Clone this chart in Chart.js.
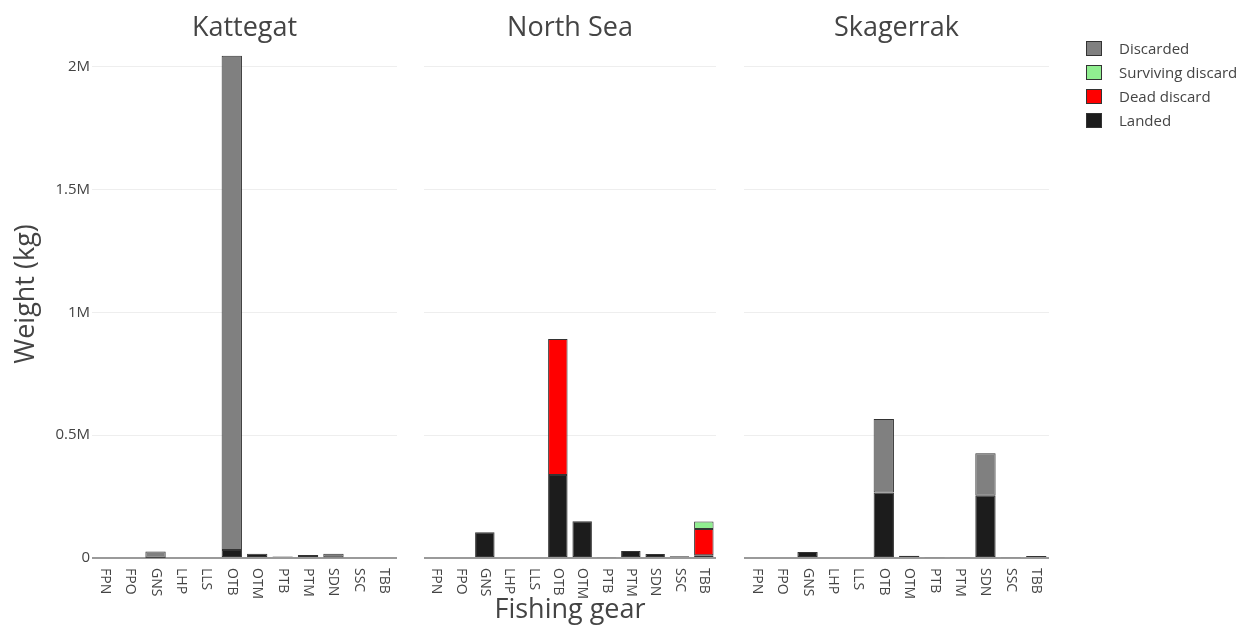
<!DOCTYPE html>
<html><head><meta charset="utf-8">
<script src="https://cdn.jsdelivr.net/npm/chart.js@4.4.1/dist/chart.umd.min.js"></script>
<style>
html,body{margin:0;padding:0;background:#fff;}
#wrap{position:relative;width:1250px;height:628px;overflow:hidden;background:#fff;}
canvas{position:absolute;left:0;top:0;}
#legend{position:absolute;left:1086px;top:36px;font-family:'Open Sans';font-size:15px;color:#444;}
.item{height:24px;display:flex;align-items:center;white-space:nowrap;}
.sw{width:14px;height:13px;border:1px solid #333;margin-right:17px;flex:none;}
</style></head><body>
<div id="wrap">
<canvas id="c1" width="1250" height="628"></canvas>
<canvas id="c2" width="1250" height="628"></canvas>
<canvas id="c3" width="1250" height="628"></canvas>
<div id="legend"></div>
</div>
<script>
// ---- data ----
const gears = ['FPN','FPO','GNS','LHP','LLS','OTB','OTM','PTB','PTM','SDN','SSC','TBB'];
const panelTitles = ['Kattegat','North Sea','Skagerrak'];
const seriesNames = ['Landed','Dead discard','Surviving discard','Discarded'];
const seriesColors = ['#1c1c1c','#ff0000','#90ee90','#808080'];

const kattegatLanded     = [null,null,1500,null,null,33000,17500,6000,12000,3000,null,null];
const kattegatDead       = [null,null,null,null,null,null,null,null,null,null,null,null];
const kattegatSurviving  = [null,null,null,null,null,null,null,null,null,null,null,null];
const kattegatDiscarded  = [null,null,24500,null,null,2012000,null,null,null,14500,null,null];

const northSeaLanded     = [null,null,105000,null,null,338000,150000,3000,28000,16000,7000,11000];
const northSeaDead       = [null,null,null,null,null,554000,null,null,null,null,null,107000];
const northSeaSurviving  = [null,null,null,null,null,null,null,null,null,null,null,31000];
const northSeaDiscarded  = [null,null,null,null,null,null,null,null,null,null,null,null];

const skagerrakLanded    = [null,null,24000,null,null,267000,9000,3000,3000,253000,3000,8000];
const skagerrakDead      = [null,null,null,null,null,null,null,null,null,null,null,null];
const skagerrakSurviving = [null,null,null,null,null,null,null,null,null,null,null,null];
const skagerrakDiscarded = [null,null,null,null,null,299000,null,null,null,174000,null,null];

const yTickValues = [0,500000,1000000,1500000,2000000];
const yTickLabels = ['0','0.5M','1M','1.5M','2M'];
const yMax = 2150000;

// ---- layout ----
const FONT = "'Open Sans'";
const TXT = '#444';
const areas = [ {left:92,right:397}, {left:424,right:716}, {left:744,right:1049} ];
const W = 1250;

const rotLabels = {
  id:'rotLabels',
  afterDraw(chart){
    const x = chart.scales.x, ctx = chart.ctx;
    ctx.save();
    ctx.fillStyle = TXT; ctx.font = "14px " + FONT;
    ctx.textAlign = 'left'; ctx.textBaseline = 'middle';
    x.ticks.forEach((t,i)=>{
      const px = x.getPixelForTick(i);
      ctx.save(); ctx.translate(px, x.top + 10); ctx.rotate(Math.PI/2);
      ctx.fillText(x.getLabelForValue(t.value), 0, 0);
      ctx.restore();
    });
    ctx.restore();
  }
};

function makePanel(idx, seriesData){
  const first = idx === 0, mid = idx === 1;
  const a = areas[idx];
  const datasets = seriesNames.map((n,i)=>({
    label:n, data:seriesData[i], backgroundColor:seriesColors[i],
    borderColor:'#333', borderWidth:1, borderSkipped:false,
    categoryPercentage:1, barPercentage:0.8
  }));
  return new Chart(document.getElementById('c'+(idx+1)), {
    type:'bar',
    data:{labels:gears, datasets},
    options:{
      responsive:false, animation:false, events:[],
      layout:{padding:{left:first?0:a.left, right:W-a.right, top:0, bottom:0}},
      plugins:{
        legend:{display:false}, tooltip:{enabled:false},
        title:{display:true, text:panelTitles[idx], color:TXT, fullSize:false,
          font:{family:FONT, size:27, weight:'normal'}, padding:{top:11.8, bottom:-14.2}}
      },
      scales:{
        x:{stacked:true, offset:true,
          grid:{display:false}, border:{display:false},
          ticks:{display:false, autoSkip:false},
          afterFit:s=>{ s.height = 70; },
          title:{display:mid, text:'Fishing gear', color:TXT, font:{family:FONT,size:27}, padding:{top:0,bottom:1}}
        },
        y:{stacked:true, min:0, max:yMax,
          afterBuildTicks:s=>{ s.ticks = yTickValues.map(v=>({value:v})); },
          ticks:{display:first, padding:2, color:TXT, font:{family:FONT,size:15},
            callback:v=>yTickLabels[yTickValues.indexOf(v)]},
          grid:{drawTicks:false,
            color:c=> (c.tick && c.tick.value===0) ? '#9a9a9a' : '#eeeeee',
            lineWidth:c=> (c.tick && c.tick.value===0) ? 2 : 1},
          border:{display:false},
          afterFit:s=>{ s.width = first ? 92 : 0; },
          title:{display:first, text:'Weight (kg)', color:TXT, font:{family:FONT,size:27}, padding:{top:10,bottom:0}}
        }
      }
    },
    plugins:[rotLabels]
  });
}

const c1 = makePanel(0,[kattegatLanded,kattegatDead,kattegatSurviving,kattegatDiscarded]);
makePanel(1,[northSeaLanded,northSeaDead,northSeaSurviving,northSeaDiscarded]);
makePanel(2,[skagerrakLanded,skagerrakDead,skagerrakSurviving,skagerrakDiscarded]);

// legend built from the chart's own legend items (reversed like the stack)
const items = Chart.defaults.plugins.legend.labels.generateLabels(c1).slice().reverse();
const lg = document.getElementById('legend');
items.forEach(it=>{
  const d = document.createElement('div'); d.className='item';
  const s = document.createElement('span'); s.className='sw'; s.style.background = it.fillStyle;
  const t = document.createElement('span'); t.textContent = it.text;
  d.appendChild(s); d.appendChild(t); lg.appendChild(d);
});
</script>
</body></html>
